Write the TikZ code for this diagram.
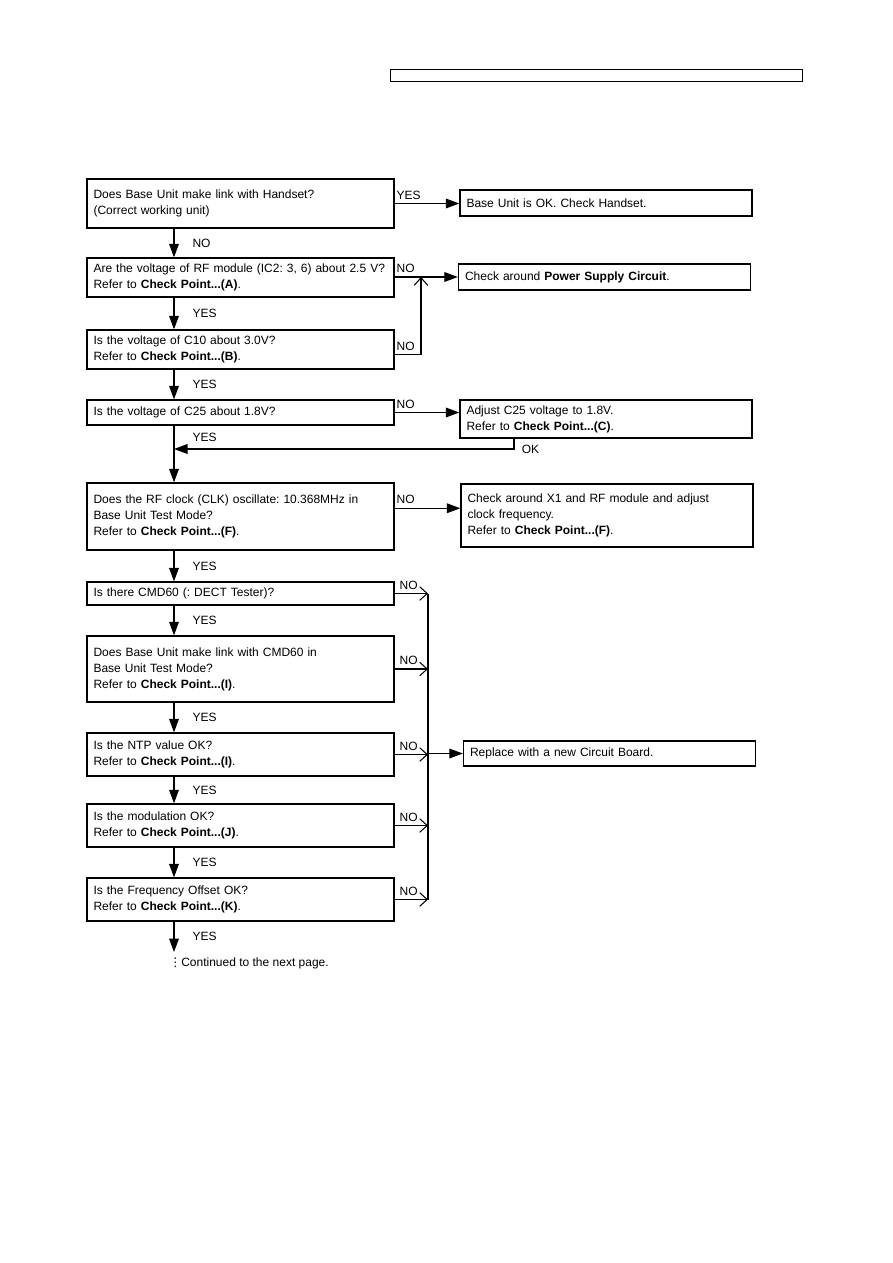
\documentclass[tikz,border=0pt]{standalone}
\usepackage{fontspec}
\setmainfont{Liberation Sans}
\newfontfamily\dotsfont{DejaVu Sans}
\usetikzlibrary{arrows.meta}

\begin{document}
\begin{tikzpicture}[
    x=0.6667pt, y=-0.6667pt,
    font=\fontsize{8}{10.7}\selectfont\frenchspacing,
    ask/.style={draw, line width=0.9pt, align=left, text width=196pt,
      inner xsep=4.35pt, inner ysep=0pt},
    act/.style={draw, line width=0.9pt, align=left, text width=186pt,
      inner xsep=4.35pt, inner ysep=0pt},
    arrow/.style={line width=0.7pt, -{Triangle[length=9pt,width=6.5pt]}},
    open/.style={line width=0.7pt, -{Straight Barb[length=5pt,width=9pt]}},
    wire/.style={line width=0.7pt},
    lbl/.style={inner sep=1pt},
    vlbl/.style={lbl, right, xshift=11pt}
  ]
    \useasboundingbox (0,0) rectangle (893,1263);

    \node[draw, line width=0.6pt, minimum width=274.7pt, minimum height=8pt,
      inner sep=0pt] (header) at (596,75) {};

    % question column
    \node[ask, minimum height=32.7pt] (link) at (240.5,203.5)
      {Does Base Unit make link with Handset?\\(Correct working unit)};
    \node[ask, minimum height=26pt] (rfvolt) at (240.5,277.5)
      {Are the voltage of RF module (IC2: 3, 6) about 2.5 V?\\Refer to \textbf{Check Point...(A)}.};
    \node[ask, minimum height=26pt] (cten) at (240.5,349.5)
      {Is the voltage of C10 about 3.0V?\\Refer to \textbf{Check Point...(B)}.};
    \node[ask, minimum height=16.7pt] (ctwentyfive) at (240.5,412.5)
      {Is the voltage of C25 about 1.8V?};
    \node[ask, minimum height=44.7pt] (clock) at (240.5,516.5)
      {Does the RF clock (CLK) oscillate: 10.368MHz in\\Base Unit Test Mode?\\Refer to \textbf{Check Point...(F)}.};
    \node[ask, minimum height=15.3pt] (tester) at (240.5,593.5)
      {Is there CMD60 (: DECT Tester)?};
    \node[ask, minimum height=44pt] (cmdlink) at (240.5,669)
      {Does Base Unit make link with CMD60 in\\Base Unit Test Mode?\\Refer to \textbf{Check Point...(I)}.};
    \node[ask, minimum height=28.7pt] (ntp) at (240.5,754.5)
      {Is the NTP value OK?\\Refer to \textbf{Check Point...(I)}.};
    \node[ask, minimum height=28.7pt] (modul) at (240.5,825.5)
      {Is the modulation OK?\\Refer to \textbf{Check Point...(J)}.};
    \node[ask, minimum height=28.7pt] (offset) at (240.5,899.5)
      {Is the Frequency Offset OK?\\Refer to \textbf{Check Point...(K)}.};
    \node[anchor=west, inner sep=0pt] (cont) at (169,963)
      {{\dotsfont ⋮}Continued to the next page.};

    % action column
    \node[act, minimum height=17.3pt] (baseok) at (606,203)
      {Base Unit is OK. Check Handset.};
    \node[act, minimum height=17.3pt] (power) at (604.5,277)
      {Check around \textbf{Power Supply Circuit}.};
    \node[act, minimum height=25.3pt] (adjust) at (606,419)
      {Adjust C25 voltage to 1.8V.\\Refer to \textbf{Check Point...(C)}.};
    \node[act, minimum height=42pt] (xtal) at (607,515.5)
      {Check around X1 and RF module and adjust\\clock frequency.\\Refer to \textbf{Check Point...(F)}.};
    \node[act, minimum height=16.7pt] (replace) at (609.5,753.5)
      {Replace with a new Circuit Board.};

    \coordinate (spine) at (174,0);
    \coordinate (riser) at (421,0);
    \coordinate (bus) at (428,0);
    \coordinate (okdrop) at (514,449);
    \coordinate (merge) at (174,449);
    \coordinate (nextpage) at (174,952);

    % main YES/NO chain
    \draw[arrow] (link.south -| spine) -- node[vlbl]{NO} (rfvolt.north -| spine);
    \draw[arrow] (rfvolt.south -| spine) -- node[vlbl]{YES} (cten.north -| spine);
    \draw[arrow] (cten.south -| spine) -- node[vlbl]{YES} (ctwentyfive.north -| spine);
    \draw[arrow] (ctwentyfive.south -| spine) -- node[vlbl, pos=0.2]{YES} (clock.north -| spine);
    \draw[arrow] (clock.south -| spine) -- node[vlbl]{YES} (tester.north -| spine);
    \draw[arrow] (tester.south -| spine) -- node[vlbl]{YES} (cmdlink.north -| spine);
    \draw[arrow] (cmdlink.south -| spine) -- node[vlbl]{YES} (ntp.north -| spine);
    \draw[arrow] (ntp.south -| spine) -- node[vlbl]{YES} (modul.north -| spine);
    \draw[arrow] (modul.south -| spine) -- node[vlbl]{YES} (offset.north -| spine);
    \draw[arrow] (offset.south -| spine) -- node[vlbl]{YES} (nextpage);

    % side branches
    \draw[arrow] (link.east) -- node[lbl, pos=0, anchor=south west, yshift=1.5pt]{YES}
      (link.east -| baseok.west);
    \draw[arrow] (rfvolt.east |- power.west) -- node[lbl, pos=0, anchor=south west, yshift=1.5pt]{NO}
      (power.west);
    \draw[open] ([yshift=-3.5pt]cten.east) -- node[lbl, pos=0, anchor=south west, yshift=1.5pt]{NO}
      ([yshift=-3.5pt]cten.east -| riser) -- (riser |- power.west);
    \draw[arrow] (ctwentyfive.east) -- node[lbl, pos=0, anchor=south west, yshift=1.5pt]{NO}
      (ctwentyfive.east -| adjust.west);
    \draw[arrow] (adjust.south -| okdrop) -- (okdrop) -- (merge);
    \node[lbl, right, xshift=4pt] (oklbl) at (okdrop) {OK};
    \draw[arrow] ([yshift=5.5pt]clock.east) -- node[lbl, pos=0, anchor=south west, yshift=1.5pt]{NO}
      ([yshift=5.5pt]clock.east -| xtal.west);

    % NO bus to replacement
    \foreach \q in {tester, cmdlink, ntp, modul, offset}
      \draw[open] (\q.east) -- node[lbl, pos=0, anchor=south west, xshift=2pt, yshift=1.5pt]{NO}
        (\q.east -| bus);
    \draw[wire] (tester.east -| bus) -- (offset.east -| bus);
    \draw[arrow] (bus |- replace.west) -- (replace.west);
  \end{tikzpicture}
\end{document}
